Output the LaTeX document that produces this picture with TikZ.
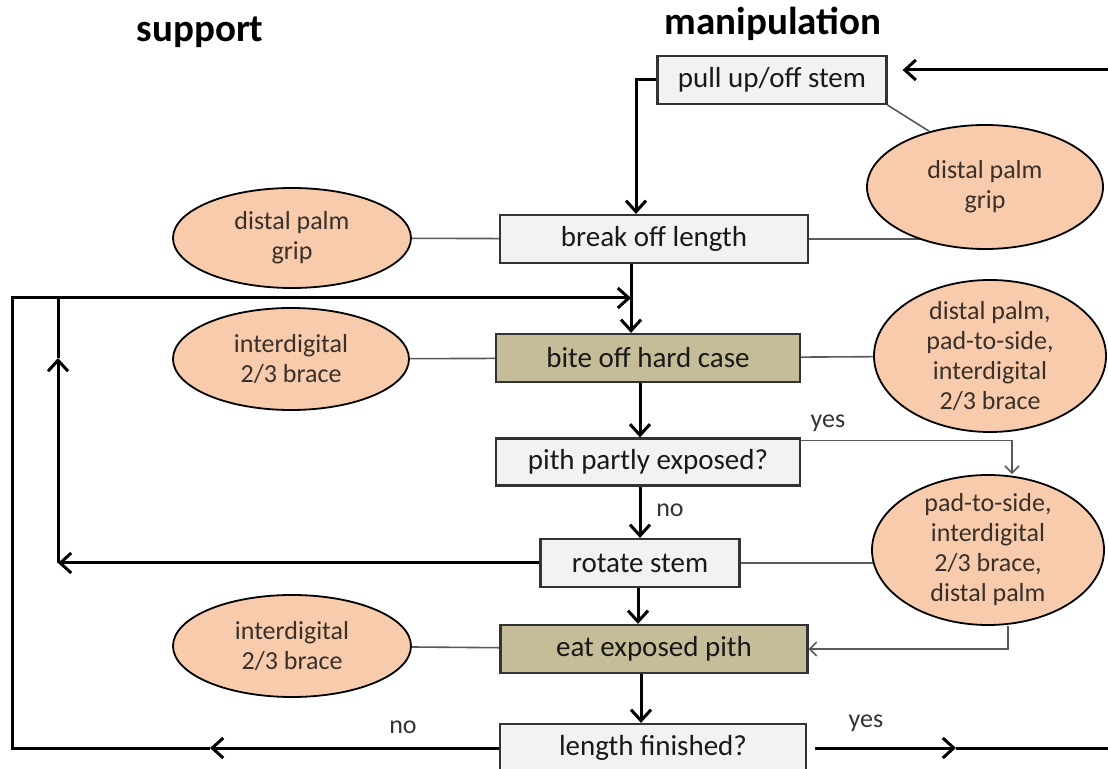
\documentclass[tikz,border=0pt]{standalone}
\usepackage{fontspec}
\setmainfont{Carlito}
\usetikzlibrary{shapes.geometric,arrows.meta,backgrounds}
\definecolor{peach}{HTML}{F8CBAD}
\definecolor{caseFill}{HTML}{C4BD97}
\definecolor{boxgray}{HTML}{F2F2F2}
\definecolor{linegray}{HTML}{595959}
\definecolor{inkbrown}{HTML}{3A3029}
\tikzset{>={Straight Barb[length=5.5pt,width=10pt]},
  actbox/.style={draw=black!80,line width=1.1pt,fill=boxgray,inner sep=0pt,
    minimum height=24pt,text=black!90,font=\fontsize{14.5}{17}\selectfont},
  hardbox/.style={actbox,fill=caseFill},
  grip/.style={ellipse,draw,line width=0.9pt,fill=peach,inner sep=0pt,inner ysep=-4pt,
    align=center,text=inkbrown,font=\fontsize{13}{15}\selectfont},
  flow/.style={->,line width=1.5pt},
  link/.style={linegray,line width=0.8pt},
  thinarr/.style={link,-{Straight Barb[length=3.5pt,width=7pt]}},
  lbl/.style={text=black!80,font=\fontsize{13}{15}\selectfont}}
\newcommand*{\hd}[1]{{\fontsize{19.5}{23}\selectfont\bfseries #1}}

\begin{document}
\begin{tikzpicture}[x=0.5pt,y=-0.5pt]
\useasboundingbox (0,0) rectangle (1108,769);
\node[anchor=base] (tSup) at (200,42) {\hd{support}};
\node[anchor=base] (tMan) at (773,35) {\hd{manipulation}};
\node[actbox,minimum width=114.5pt] (pull) at (772,80) {pull up/off stem};
\node[actbox,minimum width=154pt] (brk) at (654,239) {break off length};
\node[hardbox,minimum width=152pt] (bite) at (648,358) {bite off hard case};
\node[actbox,minimum width=152pt,minimum height=23.5pt] (pith) at (648,462) {pith partly exposed?};
\node[actbox,minimum width=99.5pt] (rot) at (640,563) {rotate stem};
\node[hardbox,minimum width=153.5pt] (eat) at (654,649) {eat exposed pith};
\node[actbox,minimum width=153pt] (len) at (653,748) {length finished?};
\node[grip,minimum width=118pt,minimum height=62pt] (gTop) at (985,187) {distal palm\\grip};
\node[grip,minimum width=119pt,minimum height=50pt] (gBrk) at (292,238) {distal palm\\grip};
\node[grip,minimum width=118pt,minimum height=51pt] (gBiteL) at (291,359) {interdigital\\2/3 brace};
\node[grip,minimum width=116pt,minimum height=76pt] (gBiteR) at (990,356) {distal palm,\\pad-to-side,\\interdigital\\2/3 brace};
\node[grip,minimum width=116pt,minimum height=75pt] (gRot) at (988,550) {pad-to-side,\\interdigital\\2/3 brace,\\distal palm};
\node[grip,minimum width=119pt,minimum height=51pt] (gEat) at (292,646) {interdigital\\2/3 brace};
\node[lbl] (yesA) at (828,423) {yes};
\node[lbl] (noA) at (670,510) {no};
\node[lbl] (noB) at (403,727) {no};
\node[lbl] (yesB) at (866,723) {yes};
\begin{scope}[on background layer]
\draw[link] (gBrk) -- (brk) -- (brk -| gTop);
\draw[link] (gBiteL) -- (bite) -- (gBiteR);
\draw[link] (rot) -- (rot -| gRot);
\draw[link] (gEat) -- (eat);
\end{scope}
\draw[link] (pull.south east) -- (gTop.135);
\coordinate (topR) at (1108,70);
\coordinate (noTip) at (210,748);
\coordinate (outBL) at (12,748);
\coordinate (outTL) at (12,298);
\coordinate (join) at (631,298);
\coordinate (inBL) at (58,563);
\coordinate (upTip) at (58,358);
\coordinate (inTL) at (58,298);
\coordinate (yesTip) at (956,748);
\coordinate (outR) at (1108,748);
\draw[flow,shorten >=7.5pt] (topR) -- (topR -| pull.east);
\draw[flow] (pull.west) -| ([xshift=-9pt]brk.north);
\draw[flow] ([xshift=-11.5pt]brk.south) -- ([xshift=-8.5pt]bite.north);
\draw[flow] ([xshift=-4pt]bite.south) -- ([xshift=-4pt]pith.north);
\draw[flow] ([xshift=-4pt]pith.south) -- (rot.north);
\draw[flow] ([xshift=-1pt]rot.south) -- ([xshift=-8pt]eat.north);
\draw[flow] ([xshift=-6.5pt]eat.south) -- ([xshift=-6pt]len.north);
\draw[flow] (len.west) -- (noTip);
\draw[flow] (noTip) -- (outBL) -- (outTL) -- (join);
\draw[flow] (rot.west) -- (inBL);
\draw[flow] (inBL) -- (upTip);
\draw[line width=1.5pt] (upTip) -- (inTL);
\draw[flow] ([xshift=4pt]len.east) -- (yesTip);
\draw[line width=1.5pt] (yesTip) -- (outR);
\draw[thinarr] ([yshift=-1.5pt]pith.north east) -| ([xshift=12pt]gRot.north);
\draw[thinarr] ([xshift=10pt]gRot.south) |- (eat.east);
\end{tikzpicture}
\end{document}
